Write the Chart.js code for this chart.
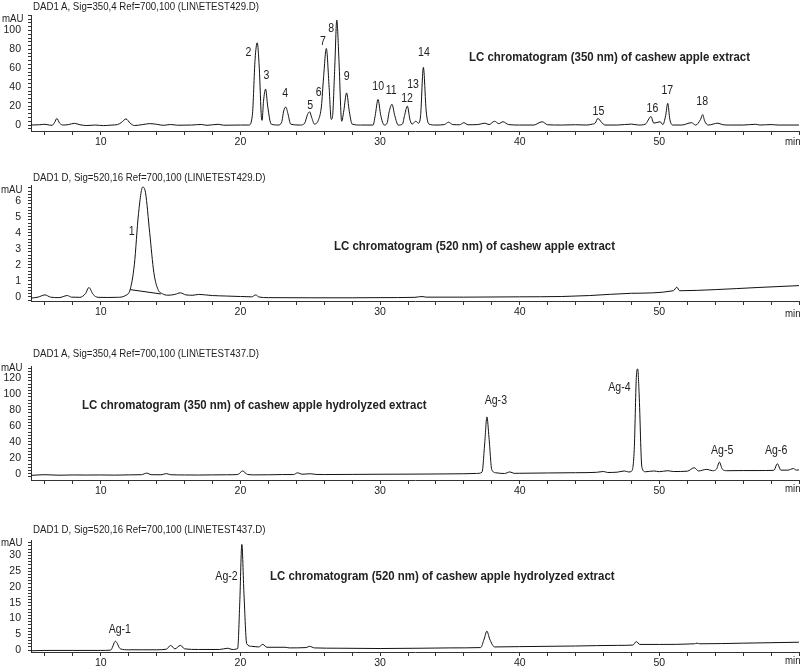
<!DOCTYPE html>
<html>
<head>
<meta charset="utf-8">
<script src="https://cdn.jsdelivr.net/npm/chart.js@4.4.0/dist/chart.umd.min.js"></script>
<style>
  html, body { margin: 0; padding: 0; background: #fff; overflow: hidden; }
  body { width: 800px; height: 668px; position: relative; font-family: "Liberation Sans", Arial, sans-serif; color: #222; }
  canvas { position: absolute; left: 0; }
  .txt { position: absolute; white-space: nowrap; line-height: 14px; transform: scaleX(0.88); transform-origin: 0 50%; }
  .hdr { font-size: 11px; }
  .ttl { font-size: 13px; font-weight: bold; }
  .unit { font-size: 11px; }
</style>
</head>
<body>
<canvas id="c1" width="800" height="151" style="top:0px"></canvas>
<canvas id="c2" width="800" height="156" style="top:165px"></canvas>
<canvas id="c3" width="800" height="160" style="top:340px"></canvas>
<canvas id="c4" width="800" height="162" style="top:510px"></canvas>

<div class="txt hdr" style="left:33px;top:-1px">DAD1 A, Sig=350,4 Ref=700,100 (LIN\ETEST429.D)</div>
<div class="txt hdr" style="left:33px;top:170px">DAD1 D, Sig=520,16 Ref=700,100 (LIN\ETEST429.D)</div>
<div class="txt hdr" style="left:33px;top:346px">DAD1 A, Sig=350,4 Ref=700,100 (LIN\ETEST437.D)</div>
<div class="txt hdr" style="left:33px;top:522px">DAD1 D, Sig=520,16 Ref=700,100 (LIN\ETEST437.D)</div>

<div class="txt ttl" style="left:469px;top:50px">LC chromatogram (350 nm) of cashew apple extract</div>
<div class="txt ttl" style="left:334px;top:239px">LC chromatogram (520 nm) of cashew apple extract</div>
<div class="txt ttl" style="left:82px;top:398px">LC chromatogram (350 nm) of cashew apple hydrolyzed extract</div>
<div class="txt ttl" style="left:270px;top:569px">LC chromatogram (520 nm) of cashew apple hydrolyzed extract</div>

<div class="txt unit" style="left:2px;top:11px">mAU</div>
<div class="txt unit" style="left:1px;top:182px">mAU</div>
<div class="txt unit" style="left:1px;top:360px">mAU</div>
<div class="txt unit" style="left:1px;top:535px">mAU</div>
<div class="txt unit" style="left:785px;top:134px">min</div>
<div class="txt unit" style="left:785px;top:306px">min</div>
<div class="txt unit" style="left:785px;top:481px">min</div>
<div class="txt unit" style="left:785px;top:653px">min</div>

<script>
// retention time (min), absorbance (mAU)
const trace350raw = [
  [5.0,0],[5.6,0.3],[6.0,0.8],[6.3,0],[6.5,-0.3],[6.7,3],[6.85,7],[7.05,2],[7.3,0],[7.7,0.5],
  [8.1,1.8],[8.5,0.3],[9.0,-0.5],[9.6,0],[10.2,-0.6],[10.8,0],[11.2,0.5],[11.5,3],[11.8,6.5],[12.1,2],
  [12.4,-0.5],[13.0,0.5],[13.5,1.5],[14.0,0.8],[14.5,-0.3],[15.0,0.6],[15.5,-0.2],[16.5,0],[17.2,0.6],[17.6,-0.3],
  [18.4,0.8],[18.8,-0.2],[20.0,0],[20.6,0],[20.85,10],[21.05,70],[21.2,87],[21.35,60],[21.5,8],[21.55,5],
  [21.65,25],[21.8,38],[21.95,20],[22.2,1],[22.7,0],[22.95,3],[23.1,15],[23.25,19],[23.4,12],[23.6,1],
  [24.3,0],[24.6,2],[24.8,11],[24.95,14],[25.1,8],[25.3,1],[25.6,6],[25.8,20],[25.95,50],[26.15,81],
  [26.35,40],[26.5,6],[26.6,10],[26.75,60],[26.9,111],[27.05,70],[27.25,4],[27.4,15],[27.6,34],[27.8,14],
  [28.0,1],[28.6,0],[29.5,0],[29.65,10],[29.85,27],[30.05,10],[30.3,0],[30.5,2],[30.65,14],[30.85,22],
  [31.05,10],[31.3,0],[31.6,1],[31.75,10],[31.95,20],[32.15,5],[32.3,1],[32.55,4],[32.75,2],[32.9,10],
  [33.1,61],[33.3,15],[33.5,1],[34.0,0],[34.6,0.5],[34.9,3],[35.2,0.5],[35.7,0.3],[36.0,2.5],[36.3,0.3],
  [37.0,0.5],[37.5,2],[37.8,0.5],[38.2,4],[38.5,1.5],[38.8,3.5],[39.2,0.5],[40.0,0],[41.0,0],[41.6,3.5],
  [42.0,0.3],[43.0,0],[44.0,0.3],[44.8,0],[45.2,1],[45.4,2],[45.6,7],[45.85,3],[46.1,0],[47.0,0],
  [48.0,1],[48.5,0],[49.0,1],[49.4,9],[49.6,2],[50.05,3.5],[50.25,0.5],[50.45,10],[50.6,23],[50.75,6],
  [50.95,0],[51.6,0],[52.3,2.5],[52.6,0],[52.95,6],[53.1,11],[53.25,4],[53.5,0],[54.2,2],[54.5,0.5],
  [55.0,0],[56.0,0],[56.9,0.8],[57.2,0],[58.0,0.5],[58.5,0],[60.0,0]
];
const trace520raw = [
  [5.0,-0.08],[5.5,-0.02],[6.0,0.12],[6.4,-0.02],[7.0,-0.05],[7.6,0.08],[7.9,-0.02],[8.5,-0.03],[8.9,0.2],[9.15,0.58],
  [9.45,0.15],[9.8,-0.03],[10.5,-0.04],[11.2,-0.03],[11.8,0.1],[12.1,0.45],[12.4,2.0],[12.7,5.2],[13.0,6.85],[13.2,6.5],
  [13.5,4.0],[13.8,1.5],[14.1,0.45],[14.4,0.2],[14.8,0.1],[15.3,0.15],[15.7,0.25],[16.1,0.12],[16.6,0.1],[17.0,0.15],
  [17.5,0.12],[18.0,0.08],[19.0,0.05],[20.0,0.02],[20.8,0.0],[21.1,0.12],[21.3,0.0],[22.0,-0.05],[25.0,-0.06],[28.0,-0.06],
  [30.0,-0.05],[32.5,-0.03],[33.0,0.02],[33.3,-0.02],[36.0,-0.02],[40.0,0.0],[43.0,0.02],[45.0,0.08],[48.0,0.22],[51.0,0.38],
  [51.25,0.6],[51.45,0.38],[54.0,0.45],[57.0,0.58],[60.0,0.7]
];
const trace520base = [[12.1,0.45],[14.3,0.18]];
const trace350hyd = [
  [5.0,-2],[6.0,-1.2],[7.0,-1.8],[8.0,-1.5],[9.0,-1.6],[10.0,-1.5],[11.0,-1.7],[12.0,-1.4],[12.9,-1.2],[13.3,0.8],
  [13.6,-1.2],[14.3,-1.3],[14.7,0.2],[15.0,-1.2],[16.0,-1.5],[17.0,-1.6],[18.0,-1.4],[19.0,-1.3],[19.8,-1],[20.15,3.5],
  [20.5,-0.8],[21.0,-1.4],[22.0,-1.3],[23.0,-1.0],[23.8,-1],[24.1,1.2],[24.4,-0.6],[25.0,0],[25.4,-0.8],[26.0,-1.0],
  [28.0,-0.8],[30.0,-0.6],[32.0,-0.5],[34.0,-0.3],[36.0,0],[36.9,0.4],[37.3,2],[37.5,40],[37.65,71],[37.8,45],
  [38.0,5],[38.3,1.2],[38.9,0.3],[39.3,2.3],[39.6,0.5],[40.0,0.6],[42.0,1],[44.0,1.3],[45.5,1.8],[46.0,2.8],
  [46.3,1.6],[47.0,2],[47.5,3.5],[47.8,2.2],[48.0,3],[48.2,30],[48.35,120],[48.45,131],[48.55,100],[48.75,8],
  [49.0,2.5],[49.6,3.5],[50.0,2.6],[50.6,3.8],[51.0,2.8],[52.0,3.2],[52.5,7.5],[52.8,3.5],[53.4,5.5],[53.8,3.8],
  [54.1,6],[54.3,14.5],[54.5,6],[54.8,3.8],[56.0,4],[57.0,4],[58.2,4.3],[58.45,12.5],[58.7,4.5],[59.2,4.5],
  [59.6,6.5],[59.8,4.6],[60.0,4.8]
];
const trace520hyd = [
  [5.0,-0.2],[6.0,-0.1],[8.0,-0.1],[10.0,-0.1],[10.7,0],[11.05,2.8],[11.4,0.4],[12.0,0.1],[13.0,0.1],[14.0,0.1],
  [14.7,0.3],[15.0,1.5],[15.3,0.4],[15.7,1.5],[16.0,0.4],[17.0,0.2],[18.5,0.2],[19.1,0.6],[19.4,0.2],[19.8,0.5],
  [19.95,15],[20.1,33.5],[20.25,18],[20.45,2],[20.8,1.2],[21.3,1.0],[21.6,1.8],[21.9,0.9],[23.2,0.9],[23.5,0.7],
  [24.7,0.8],[24.95,1.2],[25.3,0.7],[27.0,0.6],[30.0,0.5],[33.0,0.6],[35.0,0.7],[37.2,0.8],[37.45,3.5],[37.65,6.0],
  [37.85,3.5],[38.2,1.0],[40.0,1.1],[44.0,1.3],[47.0,1.5],[48.1,1.6],[48.35,2.7],[48.6,1.8],[50.0,1.8],[52.5,2.0],
  [52.7,2.2],[52.9,2.0],[56.0,2.2],[60.0,2.5]
];

// peak labels: [text, time, mAU]
const labels350raw = [
  ['2',20.57,77],['3',21.86,52],['4',23.2,33],['5',25.0,21],['6',25.6,34],['7',25.9,88],['8',26.5,101.6],
  ['9',27.6,50.8],['10',29.86,41],['11',30.8,36],['12',31.93,27.5],['13',32.36,43],['14',33.14,77],
  ['15',45.64,13.8],['16',49.5,16.9],['17',50.57,35.9],['18',53.07,24.3]
];
const labels520raw = [['1',12.21,4.06]];
const labels350hyd = [['Ag-3',38.29,91.4],['Ag-4',47.14,107.6],['Ag-5',54.5,28.2],['Ag-6',58.36,28.2]];
const labels520hyd = [['Ag-1',11.36,6.6],['Ag-2',19.0,23.2]];

const FONT = { family: '"Liberation Sans", Arial, sans-serif', size: 10.5 };
const INK = '#111';

const peakLabels = {
  id: 'peakLabels',
  afterDatasetsDraw(chart, args, opts) {
    const { ctx, scales: { x, y } } = chart;
    ctx.save();
    ctx.font = '12px ' + FONT.family;
    ctx.fillStyle = '#222';
    ctx.textAlign = 'center';
    ctx.textBaseline = 'middle';
    (opts.items || []).forEach(([txt, t, v]) => {
      ctx.save();
      ctx.translate(x.getPixelForValue(t), y.getPixelForValue(v));
      ctx.scale(0.88, 1);
      ctx.fillText(txt, 0, 0);
      ctx.restore();
    });
    ctx.restore();
  }
};

function stepTicks(step) {
  return scale => {
    const out = [];
    for (let k = Math.ceil(scale.min / step - 1e-9); k * step <= scale.max + 1e-9; k++) out.push({ value: +(k * step).toFixed(4) });
    scale.ticks = out;
  };
}
const isMult = (v, m) => Math.abs(v / m - Math.round(v / m)) < 1e-6;

function makeChart(id, trace, extra, labels, yMin, yMax, yMinor, yMajor, padTop) {
  const datasets = [{
    data: trace.map(([t, v]) => ({ x: t, y: v })),
    borderColor: INK, borderWidth: 1, pointRadius: 0,
    cubicInterpolationMode: 'monotone', fill: false
  }];
  if (extra) datasets.push({
    data: extra.map(([t, v]) => ({ x: t, y: v })),
    borderColor: INK, borderWidth: 1, pointRadius: 0, tension: 0, fill: false
  });
  return new Chart(document.getElementById(id), {
    type: 'line',
    data: { datasets },
    options: {
      responsive: false, animation: false, devicePixelRatio: 1,
      layout: { padding: { top: padTop, left: 0, right: 0, bottom: 0 } },
      plugins: { legend: { display: false }, tooltip: { enabled: false }, peakLabels: { items: labels } },
      scales: {
        x: {
          type: 'linear', min: 5, max: 60,
          afterBuildTicks: stepTicks(2),
          afterFit: s => { s.height = 20; },
          border: { color: '#333', width: 1 },
          grid: { drawOnChartArea: false, tickLength: 4, color: '#333' },
          ticks: {
            autoSkip: false, maxRotation: 0, padding: 1, color: '#222', font: FONT,
            callback: v => (isMult(v, 10) && v < 59 ? String(v) : '')
          }
        },
        y: {
          min: yMin, max: yMax,
          afterBuildTicks: stepTicks(yMinor),
          afterFit: s => { s.width = 31; },
          border: { color: '#333', width: 1 },
          grid: { drawOnChartArea: false, tickLength: 3, color: '#333' },
          ticks: {
            autoSkip: false, padding: 7, color: '#222', font: FONT,
            callback: v => (isMult(v, yMajor) ? String(+v.toFixed(2)) : '')
          }
        }
      }
    },
    plugins: [peakLabels]
  });
}

makeChart('c1', trace350raw, null, labels350raw, -6.3, 116.4, 4, 20, 15);
makeChart('c2', trace520raw, trace520base, labels520raw, -0.26, 6.98, 0.2, 1, 20);
makeChart('c3', trace350hyd, null, labels350hyd, -7.8, 134.6, 4, 20, 26);
makeChart('c4', trace520hyd, null, labels520hyd, -0.6, 34.9, 1, 5, 30);
</script>
</body>
</html>
